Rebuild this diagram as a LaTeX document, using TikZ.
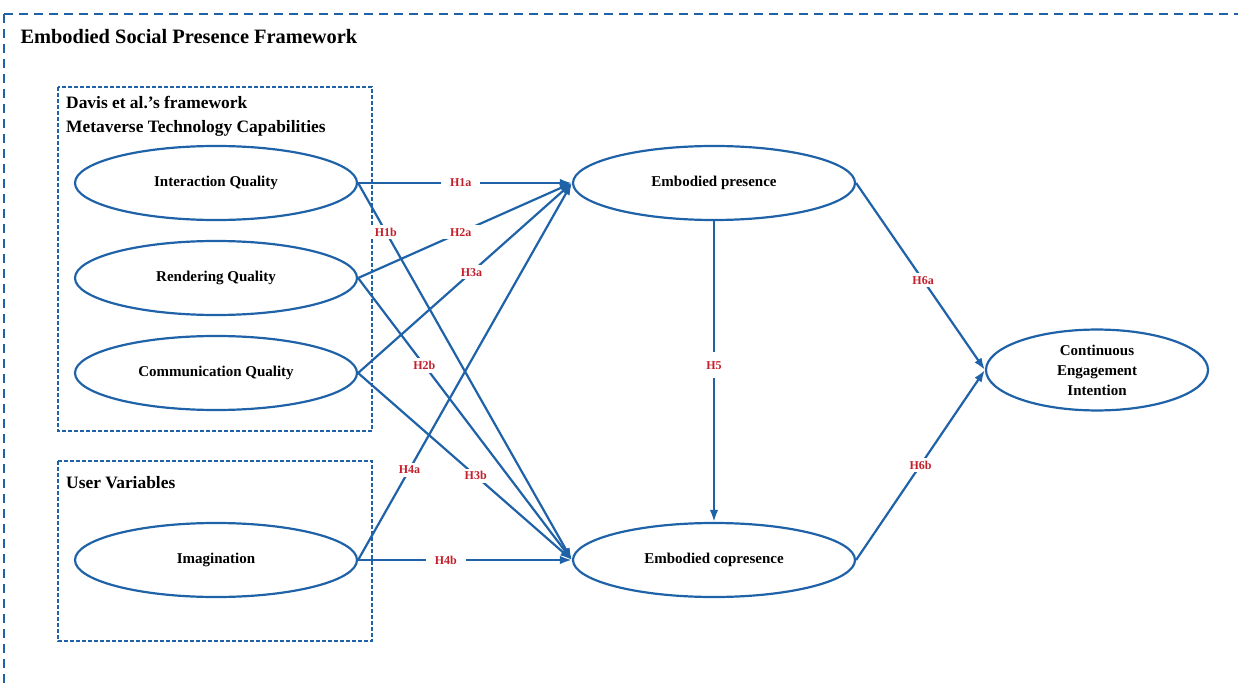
\documentclass[tikz,border=0pt]{standalone}
\usepackage{fontspec}
\setmainfont{Liberation Serif}
\usetikzlibrary{arrows.meta,positioning,calc,shapes.geometric}

\definecolor{lineblue}{RGB}{31,98,168}
\definecolor{hypred}{RGB}{196,32,44}

\tikzset{
        construct/.style={ellipse,draw=lineblue,line width=2.2pt,minimum width=282pt,minimum height=74pt,
                align=center,font=\bfseries\fontsize{15}{20}\selectfont},
        link/.style={draw=lineblue,line width=2.2pt,-{Latex[length=12pt,width=8.5pt]}},
        hyp/.style={fill=white,text=hypred,inner xsep=9pt,inner ysep=3pt,font=\bfseries\fontsize{12}{14}\selectfont},
        groupbox/.style={draw=lineblue,line width=1.6pt,dash pattern=on 4pt off 2pt},
        framebox/.style={draw=lineblue,line width=1.8pt,dash pattern=on 9pt off 6pt}
}

\begin{document}
\begin{tikzpicture}[x=1pt,y=-1pt]
        \useasboundingbox (0,0) rectangle (1238,684);
        \clip (0,0) rectangle (1238,684);

        % frames
        \draw[framebox] (4,14) -- (1250,14);
        \draw[framebox] (4,14) -- (4,700);
        \draw[groupbox] (58,87) rectangle (372,431);
        \draw[groupbox] (58,461) rectangle (372,641);

        \node[anchor=west,font=\bfseries\fontsize{20.4}{22}\selectfont] (title) at (17,37) {Embodied Social Presence Framework};
        \node[anchor=north west,align=left,inner sep=0pt,font=\bfseries\fontsize{17.4}{24}\selectfont] (davis) at (66,96)
                {Davis et al.'s framework\\Metaverse Technology Capabilities};
        \node[anchor=west,inner sep=0pt,font=\bfseries\fontsize{17.4}{20}\selectfont] (uservar) at (66,483) {User Variables};

        % constructs
        \node[construct] (iq) at (216,183) {Interaction Quality};
        \node[construct] (rq) at (216,278) {Rendering Quality};
        \node[construct] (cq) at (216,373) {Communication Quality};
        \node[construct] (im) at (216,560) {Imagination};
        \node[construct] (ep) at (714,183) {Embodied presence};
        \node[construct] (ec) at (714,560) {Embodied copresence};
        \node[construct,minimum width=222pt] (cei) at (1097,370) {Continuous\\Engagement\\Intention};

        % hypotheses
        \draw[link] (iq.east) -- node[hyp,pos=0.48] {H1a} (ep.west);
        \draw[link] (iq.east) -- node[hyp,pos=0.13] {H1b} (ec.west);
        \draw[link] (rq.east) -- node[hyp,pos=0.48] {H2a} (ep.west);
        \draw[link] (rq.east) -- node[hyp,pos=0.31] {H2b} (ec.west);
        \draw[link] (cq.east) -- node[hyp,pos=0.53] {H3a} (ep.west);
        \draw[link] (cq.east) -- node[hyp,pos=0.55] {H3b} (ec.west);
        \draw[link] (im.east) -- node[hyp,pos=0.24] {H4a} (ep.west);
        \draw[link] (im.east) -- node[hyp,pos=0.41] {H4b} (ec.west);
        \draw[link] (ep.south) -- node[hyp,pos=0.48,inner xsep=3pt,inner ysep=9pt] {H5} (ec.north);
        \draw[link] (ep.east) -- node[hyp,pos=0.52] {H6a} (cei.west);
        \draw[link] (ec.east) -- node[hyp,pos=0.5] {H6b} (cei.west);
\end{tikzpicture}
\end{document}
